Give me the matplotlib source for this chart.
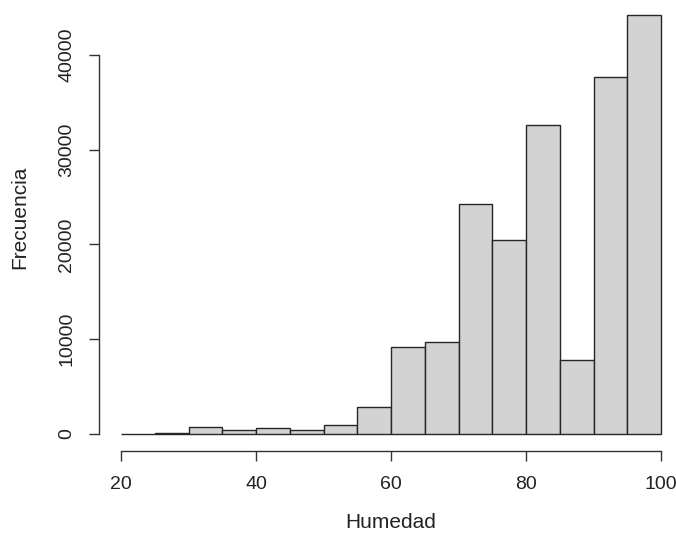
import numpy as np
import matplotlib.pyplot as plt

plt.rcParams['font.family'] = ['Liberation Sans', 'DejaVu Sans']

# histogram of humidity, 5-unit bins from 20 to 100
bin_left = [20, 25, 30, 35, 40, 45, 50, 55, 60, 65, 70, 75, 80, 85, 90, 95]
counts = [20, 150, 770, 450, 600, 420, 900, 2800,
          9150, 9700, 24300, 20500, 32650, 7800, 37650, 44250]
x_ticks = [20, 40, 60, 80, 100]
y_ticks = [0, 10000, 20000, 30000, 40000]

W, H = 676, 537
fig = plt.figure(figsize=(W / 100, H / 100), dpi=100)

# plot region in pixels (left, top, right, bottom)
px_l, px_t, px_r, px_b = 99, 0, 676, 451
ax = fig.add_axes([px_l / W, 1 - px_b / H, (px_r - px_l) / W, (px_b - px_t) / H])

x_per_px = 80 / 540.0
y_per_px = 40000 / 379.0
ax.set_xlim(20 - (121 - px_l) * x_per_px, 20 + (px_r - 121) * x_per_px)
ax.set_ylim(-(px_b - 434) * y_per_px, (434 - px_t) * y_per_px)

ax.bar(bin_left, counts, width=5, align='edge', color='#d3d3d3',
       edgecolor='#262626', linewidth=1.0)

for side in ['top', 'right']:
    ax.spines[side].set_visible(False)
ax.spines['left'].set_bounds(0, 40000)
ax.spines['bottom'].set_bounds(20, 100)
for side in ['left', 'bottom']:
    ax.spines[side].set_color('#333333')
    ax.spines[side].set_linewidth(1.0)

ax.set_xticks(x_ticks)
ax.set_yticks(y_ticks)
ax.set_yticklabels([str(v) for v in y_ticks], rotation=90, va='center')
ax.tick_params(axis='both', length=7, width=1.0, color='#333333',
               labelsize=14, labelcolor='#222222')
ax.tick_params(axis='x', pad=11)
ax.tick_params(axis='y', pad=10)

fig.text(391 / W, 1 - 522 / H, 'Humedad', ha='center', va='center',
         fontsize=15, color='#222222')
fig.text(20 / W, 1 - 217 / H, 'Frecuencia', ha='center', va='center',
         rotation=90, fontsize=15, color='#222222')

fig.savefig('out.png', dpi=100)
